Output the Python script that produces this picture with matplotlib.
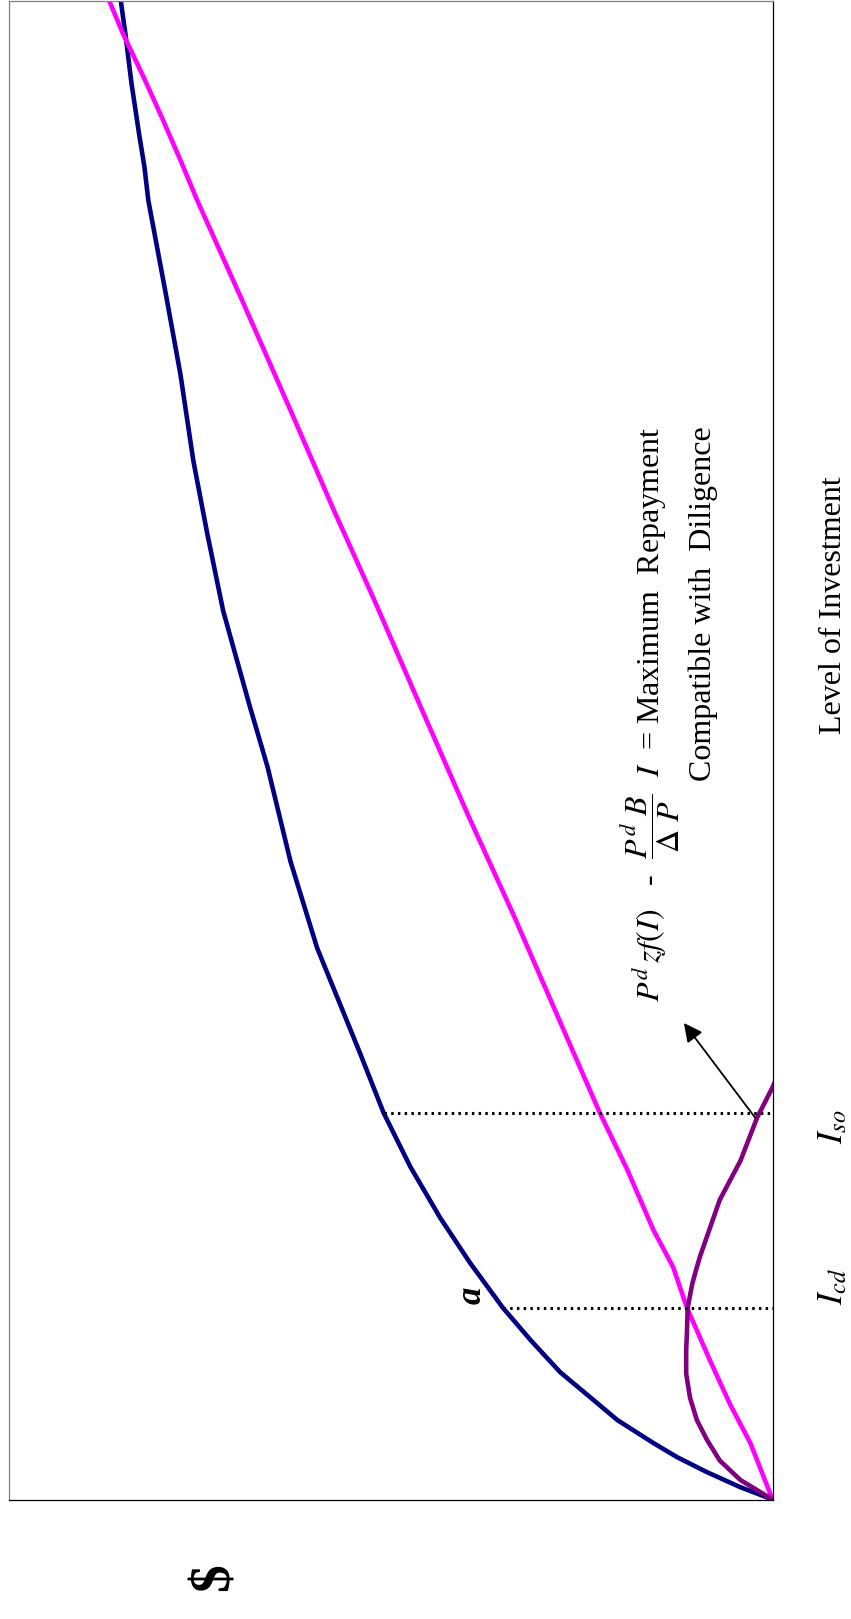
import numpy as np
import matplotlib
matplotlib.use('Agg')
import matplotlib.pyplot as plt

###################################################
#     DILIGENCE / MAXIMUM REPAYMENT (rotated)     #
###################################################

# The chart is drawn turned a quarter turn: the level of investment runs
# upward, dollars run to the left (x axis inverted). Both scaled 0..100.

# f-curve, P^d z f(I)  (navy)
blue_inv = [0, 0.83, 1.83, 2.83, 3.77, 5.3, 6.84, 8.5, 10.6, 12.8, 15.8, 18.8,
            22.2, 25.8, 29.8, 31.8, 36.8, 42.6, 48.9, 52.9, 59.3, 64.5, 69.3,
            75.1, 80.7, 86.7, 88.9, 91.1, 94.5, 97.8, 100.0, 101.3]
blue_usd = [0, 4.25, 8.6, 12.5, 15.6, 20.3, 23.9, 27.8, 31.6, 35.3, 39.6, 43.5,
            47.4, 50.9, 54.0, 55.6, 59.6, 63.1, 66.1, 68.4, 71.9, 74.0, 75.8,
            77.5, 79.5, 81.7, 82.2, 82.9, 83.9, 84.7, 85.3, 85.9]

# straight line (magenta)
mag_inv = [0, 3.77, 6.4, 9.3, 12.8, 15.5, 18.0, 22.0, 25.8, 30.0, 38.9,
           45.5, 53.3, 60.0, 66.0, 72.7, 80.0, 86.7, 89.5, 92.2, 94.9, 97.8,
           100.0, 101.0]
mag_usd = [0, 2.9, 5.6, 8.2, 11.2, 13.0, 15.6, 19.0, 22.6, 26.2, 33.8,
           39.7, 46.4, 52.1, 57.4, 63.1, 69.4, 75.3, 77.6, 79.9, 82.3, 85.0,
           86.8, 87.6]

# maximum repayment compatible with diligence (purple)
pur_inv = [0, 1.3, 2.6, 4.0, 5.3, 6.8, 8.4, 10.0, 11.1, 12.8, 14.4, 15.5, 16.2,
           20.0, 22.6, 25.5, 27.5, 28.7]
pur_usd = [0, 4.2, 6.9, 8.6, 9.9, 10.8, 11.3, 11.3, 11.2, 11.1, 10.5, 9.9, 9.5,
           6.9, 4.2, 2.0, 0, -1.0]

# marked investment levels
levels = {'cd': 12.8, 'so': 25.8}
label_inv = {'cd': 14.2, 'so': 24.9}

# arrow (tail on purple curve -> head near the formula)
arrow_tail = (2.3, 25.5)
arrow_head = (11.6, 31.8)

plt.rcParams['font.family'] = ['Liberation Serif', 'DejaVu Serif']
plt.rcParams['mathtext.fontset'] = 'stix'

fig = plt.figure(figsize=(8.51, 16.19), dpi=100)
ax = fig.add_axes([0.00999, 0.07381, 0.89777, 0.92557])

ax.plot(blue_usd, blue_inv, color='#000080', lw=3.3, solid_capstyle='round',
        solid_joinstyle='round')
ax.plot(mag_usd, mag_inv, color='#FF00FF', lw=3.3, solid_capstyle='round',
        solid_joinstyle='round')
ax.plot(pur_usd, pur_inv, color='#800080', lw=3.3, solid_capstyle='round',
        solid_joinstyle='round')

# dotted guides from the f-curve to the investment axis
for key, inv in levels.items():
    top = np.interp(inv, blue_inv, blue_usd)
    ax.plot([top, 0], [inv, inv], color='black', lw=2.2, linestyle=(0, (0.8, 1.4)))
    ax.text(-8.0, label_inv[key], r'$I_{%s}$' % key, rotation=90, fontsize=25,
            ha='center', va='center', clip_on=False)

ax.text(39.3, 13.6, 'a', rotation=90, fontsize=25, fontweight='bold',
        style='italic', ha='center', va='center')

ax.annotate('', xy=arrow_head, xytext=arrow_tail,
            arrowprops=dict(arrowstyle='-|>', color='black', lw=1.3,
                            mutation_scale=28, shrinkA=0, shrinkB=0))

ax.text(16.0, 71.6,
        r'$P^{d}\,zf(I)$   -  $\dfrac{P^{d}\ B}{\Delta\ P}\ \ I$  = Maximum  Repayment',
        rotation=90, fontsize=23, ha='center', va='top')
ax.text(9.0, 71.6, 'Compatible with  Diligence', rotation=90, fontsize=23,
        ha='center', va='top')

ax.text(-8.0, 59.7, 'Level of Investment', rotation=90, fontsize=23,
        ha='center', va='center', clip_on=False)
ax.text(73.0, -5.2, r'\$', rotation=90, fontsize=40, fontweight='bold',
        ha='center', va='center', clip_on=False)

ax.set_xlim(100, 0)
ax.set_ylim(0, 100)
ax.set_xticks([])
ax.set_yticks([])
for side in ['left', 'top']:
    ax.spines[side].set_color('#808080')
for side in ['right', 'bottom']:
    ax.spines[side].set_color('black')
for sp in ax.spines.values():
    sp.set_linewidth(0.9)

fig.savefig('out.png', dpi=100)
